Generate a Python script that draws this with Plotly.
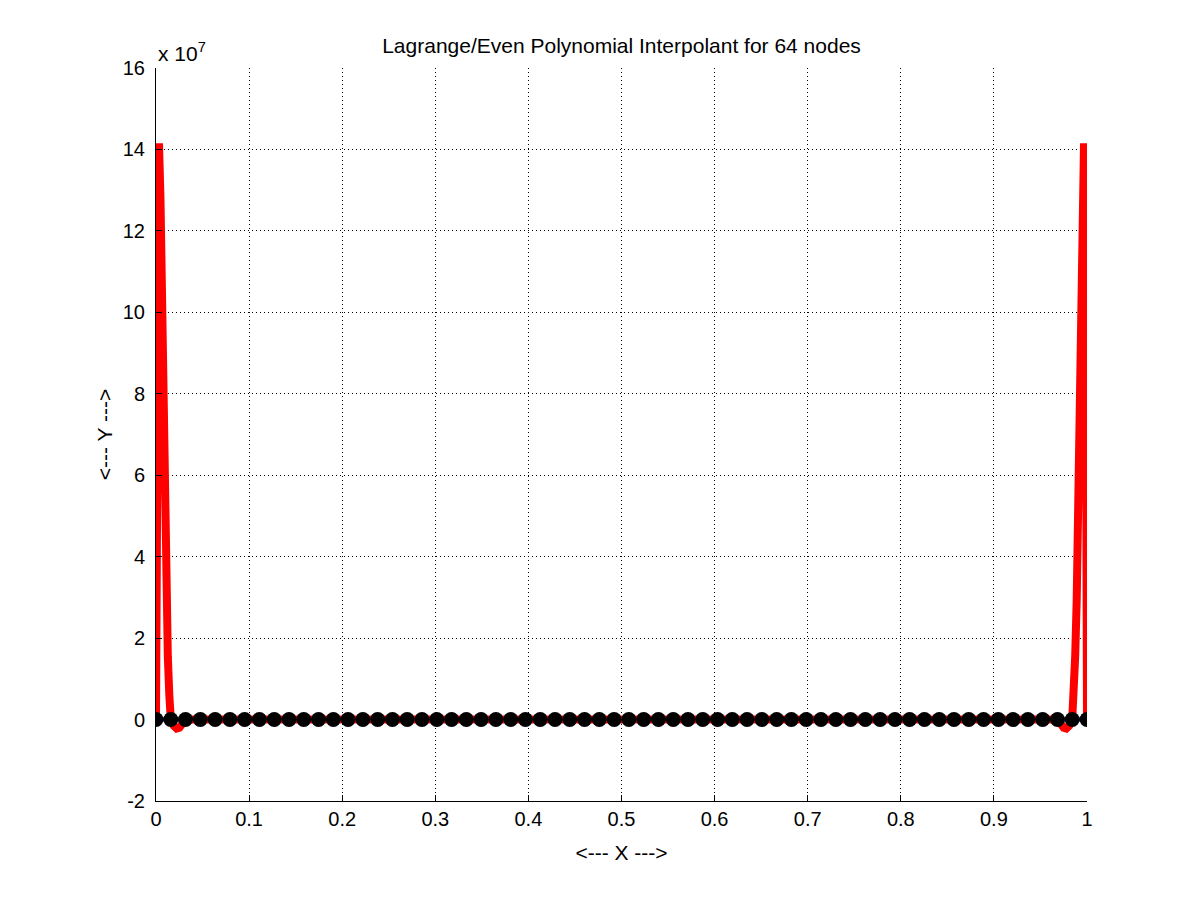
import plotly.graph_objects as go

# nodes (64 evenly spaced points on [0, 1])
node_x = [0.0, 0.0159, 0.0317, 0.0476, 0.0635, 0.0794, 0.0952, 0.1111, 0.1270, 0.1429,
          0.1587, 0.1746, 0.1905, 0.2063, 0.2222, 0.2381, 0.2540, 0.2698, 0.2857, 0.3016,
          0.3175, 0.3333, 0.3492, 0.3651, 0.3810, 0.3968, 0.4127, 0.4286, 0.4444, 0.4603,
          0.4762, 0.4921, 0.5079, 0.5238, 0.5397, 0.5556, 0.5714, 0.5873, 0.6032, 0.6190,
          0.6349, 0.6508, 0.6667, 0.6825, 0.6984, 0.7143, 0.7302, 0.7460, 0.7619, 0.7778,
          0.7937, 0.8095, 0.8254, 0.8413, 0.8571, 0.8730, 0.8889, 0.9048, 0.9206, 0.9365,
          0.9524, 0.9683, 0.9841, 1.0]
node_y = [0.0] * len(node_x)

# underlying function (flat at this scale)
func_x = [0.0, 1.0]
func_y = [0.0, 0.0]

# interpolant (values in 1e7 units)
interp_x = [0.0, 0.0008, 0.0016, 0.0024, 0.0032, 0.0048, 0.0064, 0.0079, 0.0095, 0.0111,
            0.0127, 0.0143, 0.0159, 0.0190, 0.0222, 0.0250, 0.0280, 0.0317,
            0.9683, 0.9720, 0.9750, 0.9778, 0.9810, 0.9841, 0.9857, 0.9873, 0.9889,
            0.9905, 0.9921, 0.9936, 0.9952, 0.9968, 0.9976, 0.9984, 0.9992, 1.0]
interp_y = [0.0, 7.3, 11.5, 13.5, 14.15, 12.8, 10.1, 7.3, 4.8, 2.9,
            1.55, 0.6, 0.0, -0.15, -0.22, -0.2, -0.12, 0.0,
            0.0, -0.12, -0.2, -0.22, -0.15, 0.0, 0.6, 1.55, 2.9,
            4.8, 7.3, 10.1, 12.8, 14.15, 13.5, 11.5, 7.3, 0.0]

x_ticks = [0, 0.1, 0.2, 0.3, 0.4, 0.5, 0.6, 0.7, 0.8, 0.9, 1]
x_labels = ["0", "0.1", "0.2", "0.3", "0.4", "0.5", "0.6", "0.7", "0.8", "0.9", "1"]
y_ticks = [-2, 0, 2, 4, 6, 8, 10, 12, 14, 16]

scale = 1e7
font = "Liberation Sans, Arial, sans-serif"
# page body adds 8px offset, so margins are trimmed by 8 on left/top
L, T, W, H = 148, 60, 931, 733

fig = go.Figure()

fig.add_trace(go.Scatter(
    x=func_x, y=[v * scale for v in func_y],
    mode="lines", line=dict(color="#0000ff", width=4),
    showlegend=False,
))
fig.add_trace(go.Scatter(
    x=interp_x, y=[v * scale for v in interp_y],
    mode="lines", line=dict(color="#ff0000", width=8),
    showlegend=False,
))
fig.add_trace(go.Scatter(
    x=node_x, y=node_y,
    mode="markers", marker=dict(color="black", size=15, line=dict(width=0)),
    showlegend=False,
))

fig.update_layout(
    width=1200,
    height=901,
    paper_bgcolor="#ffffff",
    plot_bgcolor="#ffffff",
    margin=dict(l=L, r=1200 - L - W, t=T, b=901 - T - H),
    font=dict(family=font, size=20, color="black"),
    title=dict(
        text="Lagrange/Even Polynomial Interpolant for 64 nodes",
        x=(L + W / 2) / 1200, xanchor="center",
        y=1 - 38 / 901, yanchor="middle",
        font=dict(size=21),
    ),
    annotations=[dict(
        text="x 10<sup>7</sup>", xref="paper", yref="paper",
        x=0, y=1, xanchor="left", yanchor="bottom", yshift=1,
        showarrow=False, font=dict(size=21),
    )],
)

fig.update_xaxes(
    range=[0, 1],
    tickvals=x_ticks, ticktext=x_labels,
    showline=True, linecolor="black", linewidth=1,
    ticks="inside", ticklen=6, tickcolor="black",
    showgrid=True, gridcolor="black", griddash="1px,3px", gridwidth=1,
    zeroline=False,
    title=dict(text="<--- X --->", standoff=16, font=dict(size=21)),
)
fig.update_yaxes(
    range=[-2 * scale, 16 * scale],
    tickvals=[v * scale for v in y_ticks], ticktext=[str(v) for v in y_ticks],
    showline=True, linecolor="black", linewidth=1,
    ticks="inside", ticklen=6, tickcolor="black",
    ticklabelstandoff=6,
    showgrid=True, gridcolor="black", griddash="1px,3px", gridwidth=1,
    zeroline=False,
    title=dict(text="<--- Y --->", standoff=4, font=dict(size=21)),
)

fig.write_html("out.html")
